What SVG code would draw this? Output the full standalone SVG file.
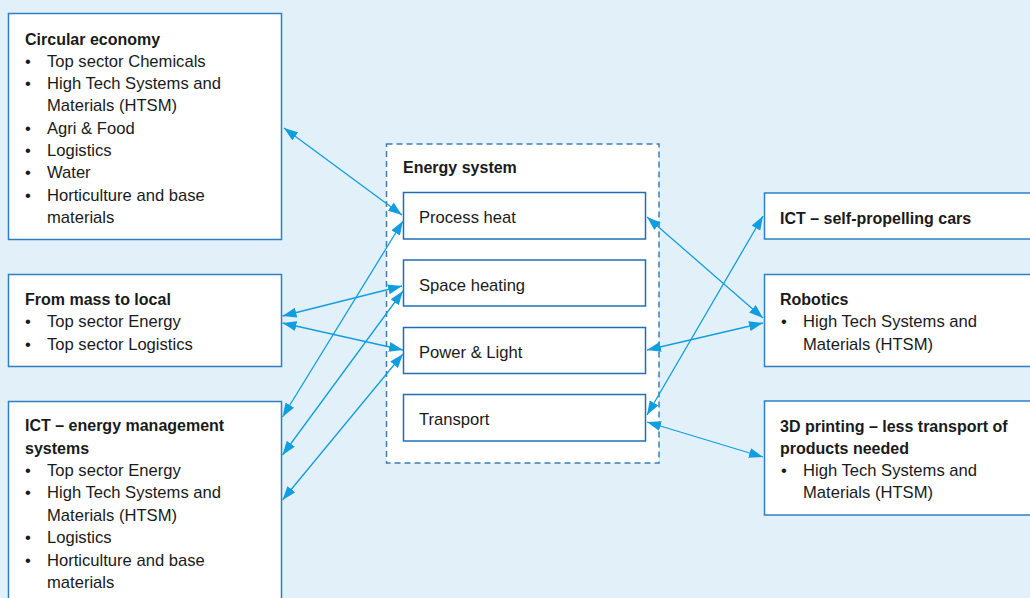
<svg xmlns="http://www.w3.org/2000/svg" width="1030" height="598" viewBox="0 0 1030 598">
  <style>
    .bg { fill: #e2f0fa; }
    .box { fill: #ffffff; stroke: #2f7fc2; stroke-width: 1.5; }
    .inner { fill: #ffffff; stroke: #1c6fb7; stroke-width: 1.5; }
    .group { fill: #ffffff; stroke: #3a7db9; stroke-width: 1.5; stroke-dasharray: 6 4; }
    text { font-family: "Liberation Sans", Arial, sans-serif; font-size: 16.6px; fill: #1a1a1a; }
    .title { font-weight: bold; font-size: 16px; }
    .link { stroke: #119ee0; stroke-width: 1.3; fill: none; marker-start: url(#head); marker-end: url(#head); }
  </style>
  <defs>
    <marker id="head" viewBox="0 0 14 10" refX="14" refY="5" markerWidth="14" markerHeight="10" markerUnits="userSpaceOnUse" orient="auto-start-reverse">
      <path d="M0,0 L14,5 L0,10 z" fill="#119ee0"/>
    </marker>
  </defs>

  <rect class="bg" x="0" y="0" width="1030" height="598"/>

  <!-- Left column -->
  <g id="circular-economy">
    <rect class="box" x="8.5" y="13.5" width="273" height="226"/>
    <text class="title" x="25" y="45">Circular economy</text>
    <text x="25" y="67">•</text><text x="47" y="67">Top sector Chemicals</text>
    <text x="25" y="89">•</text><text x="47" y="89">High Tech Systems and</text>
    <text x="47" y="111">Materials (HTSM)</text>
    <text x="25" y="133.5">•</text><text x="47" y="133.5">Agri &amp; Food</text>
    <text x="25" y="156">•</text><text x="47" y="156">Logistics</text>
    <text x="25" y="178">•</text><text x="47" y="178">Water</text>
    <text x="25" y="200.5">•</text><text x="47" y="200.5">Horticulture and base</text>
    <text x="47" y="222.5">materials</text>
  </g>

  <g id="mass-to-local">
    <rect class="box" x="8.5" y="274.5" width="273" height="92"/>
    <text class="title" x="25" y="304.5">From mass to local</text>
    <text x="25" y="327">•</text><text x="47" y="327">Top sector Energy</text>
    <text x="25" y="349.5">•</text><text x="47" y="349.5">Top sector Logistics</text>
  </g>

  <g id="ict-energy-management">
    <rect class="box" x="8.5" y="401.5" width="273" height="210"/>
    <text class="title" x="25" y="431">ICT – energy management</text>
    <text class="title" x="25" y="453.5">systems</text>
    <text x="25" y="476">•</text><text x="47" y="476">Top sector Energy</text>
    <text x="25" y="498">•</text><text x="47" y="498">High Tech Systems and</text>
    <text x="47" y="520.5">Materials (HTSM)</text>
    <text x="25" y="543">•</text><text x="47" y="543">Logistics</text>
    <text x="25" y="565.5">•</text><text x="47" y="565.5">Horticulture and base</text>
    <text x="47" y="588">materials</text>
  </g>

  <!-- Central energy system -->
  <g id="energy-system">
    <rect class="group" x="386.5" y="144" width="272.5" height="319"/>
    <text class="title" x="403" y="173">Energy system</text>
  </g>
  <g id="process-heat">
    <rect class="inner" x="403.5" y="192.5" width="242" height="46.5"/>
    <text x="419" y="223">Process heat</text>
  </g>
  <g id="space-heating">
    <rect class="inner" x="403.5" y="260" width="242" height="46"/>
    <text x="419" y="290.5">Space heating</text>
  </g>
  <g id="power-light">
    <rect class="inner" x="403.5" y="327.5" width="242" height="46"/>
    <text x="419" y="357.5">Power &amp; Light</text>
  </g>
  <g id="transport">
    <rect class="inner" x="403.5" y="394.5" width="242" height="46.5"/>
    <text x="419" y="424.5">Transport</text>
  </g>

  <!-- Right column -->
  <g id="ict-self-propelling">
    <rect class="box" x="764.5" y="193" width="280" height="46"/>
    <text class="title" x="780" y="223.5">ICT – self-propelling cars</text>
  </g>

  <g id="robotics">
    <rect class="box" x="764.5" y="274.5" width="280" height="92"/>
    <text class="title" x="780" y="304.5">Robotics</text>
    <text x="781" y="327">•</text><text x="803" y="327">High Tech Systems and</text>
    <text x="803" y="349.5">Materials (HTSM)</text>
  </g>

  <g id="printing-3d">
    <rect class="box" x="764.5" y="401" width="280" height="114"/>
    <text class="title" x="780" y="431.5">3D printing – less transport of</text>
    <text class="title" x="780" y="453.5">products needed</text>
    <text x="781" y="476">•</text><text x="803" y="476">High Tech Systems and</text>
    <text x="803" y="498">Materials (HTSM)</text>
  </g>

  <!-- Connectors -->
  <g id="connectors">
    <line class="link" x1="284" y1="128" x2="402" y2="215"/>
    <line class="link" x1="403" y1="221" x2="282.5" y2="417"/>
    <line class="link" x1="402" y1="286" x2="282.5" y2="316"/>
    <line class="link" x1="403" y1="291" x2="282.5" y2="455"/>
    <line class="link" x1="282.5" y1="323" x2="403" y2="350"/>
    <line class="link" x1="403" y1="354" x2="282.5" y2="500"/>
    <line class="link" x1="647" y1="217" x2="763" y2="318"/>
    <line class="link" x1="763" y1="216" x2="647" y2="415"/>
    <line class="link" x1="647" y1="350" x2="763" y2="323"/>
    <line class="link" x1="647" y1="422" x2="763" y2="457"/>
  </g>
</svg>
